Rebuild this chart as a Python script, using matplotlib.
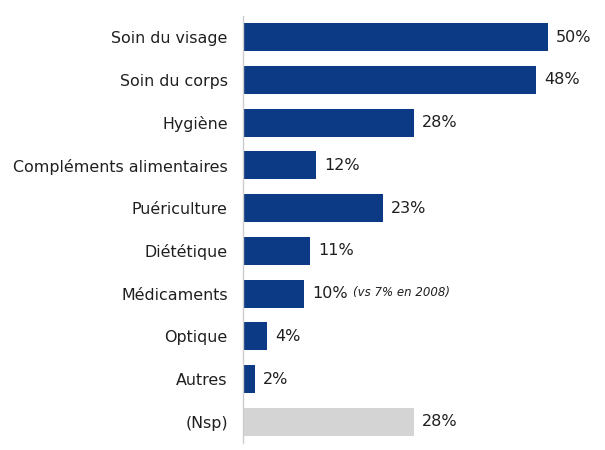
import matplotlib.pyplot as plt

categories = ["Soin du visage", "Soin du corps", "Hygiène", "Compléments alimentaires",
              "Puériculture", "Diététique", "Médicaments", "Optique", "Autres", "(Nsp)"]
values = [50, 48, 28, 12, 23, 11, 10, 4, 2, 28]
value_labels = ["50%", "48%", "28%", "12%", "23%", "11%", "10%", "4%", "2%", "28%"]
note_label = "Médicaments"
note_text = "(vs 7% en 2008)"

navy = "#0d3a85"
grey = "#d4d4d4"
txt = "#1f1f1f"

plt.rcParams["font.family"] = ["DejaVu Sans"]

fig = plt.figure(figsize=(6.05, 4.5), dpi=100)
ax = fig.add_axes([0.4017, 0.015, 0.585, 0.95])

y = list(range(len(categories)))
colors = [grey if c == "(Nsp)" else navy for c in categories]
ax.barh(y, values, height=0.66, color=colors, zorder=2)

for yi, v, lab in zip(y, values, value_labels):
    ax.text(v + 1.3, yi, lab, va="center", ha="left", fontsize=11.5, color=txt)

ni = categories.index(note_label)
ax.text(values[ni] + 8.0, ni - 0.02, note_text, va="center", ha="left",
        fontsize=8.5, style="italic", color=txt)

ax.set_yticks(y)
ax.set_yticklabels(categories, fontsize=11.4, color=txt)
ax.set_ylim(len(categories) - 0.5, -0.5)
ax.set_xlim(0, 58)
ax.set_xticks([])
for s in ["top", "right", "bottom"]:
    ax.spines[s].set_visible(False)
ax.spines["left"].set_color("#cccccc")
ax.spines["left"].set_linewidth(1.0)
ax.tick_params(axis="y", length=0, pad=11)

fig.savefig("out.png", dpi=100, facecolor="white")
